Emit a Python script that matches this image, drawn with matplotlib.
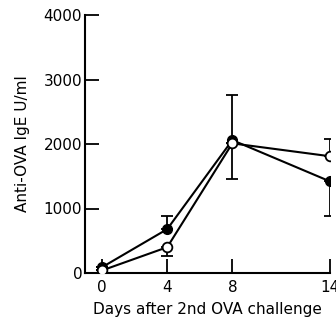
import numpy as np
import matplotlib
matplotlib.use('Agg')
import matplotlib.pyplot as plt

days = [0, 4, 8, 14]

# filled circles
filled = [90, 680, 2060, 1420]
filled_lo = [0, 0, 610, 540]
filled_hi = [0, 200, 700, 0]

# open circles
opened = [40, 400, 2010, 1810]
opened_lo = [0, 140, 0, 0]
opened_hi = [0, 0, 0, 260]

yticks = [0, 1000, 2000, 3000, 4000]
xticks = [0, 4, 8, 14]

fig = plt.figure(figsize=(3.36, 3.21), dpi=100)
ax = fig.add_axes([85 / 336, 48 / 321, 245 / 336, 258 / 321])

ax.errorbar(days, filled, yerr=[filled_lo, filled_hi], color='black', lw=1.5,
            marker='o', ms=7, mfc='black', mec='black', capsize=4, elinewidth=1.3,
            capthick=1.3, zorder=3)
ax.errorbar(days, opened, yerr=[opened_lo, opened_hi], color='black', lw=1.5,
            marker='o', ms=7, mfc='white', mec='black', mew=1.3, capsize=4,
            elinewidth=1.3, capthick=1.3, zorder=4)

ax.set_xlim(-1.05, 14)
ax.set_ylim(0, 4000)
ax.set_xticks(xticks)
ax.set_yticks(yticks)
ax.spines['top'].set_visible(False)
ax.spines['right'].set_visible(False)
for s in ['left', 'bottom']:
    ax.spines[s].set_linewidth(1.5)
ax.tick_params(direction='in', length=10, width=1.3, labelsize=11, pad=2)
ax.tick_params(axis='x', pad=5)

ax.set_ylabel('Anti-OVA IgE U/ml', fontsize=11, labelpad=10)
ax.set_xlabel('Days after 2nd OVA challenge', fontsize=11, labelpad=5)

fig.savefig('out.png', dpi=100)
